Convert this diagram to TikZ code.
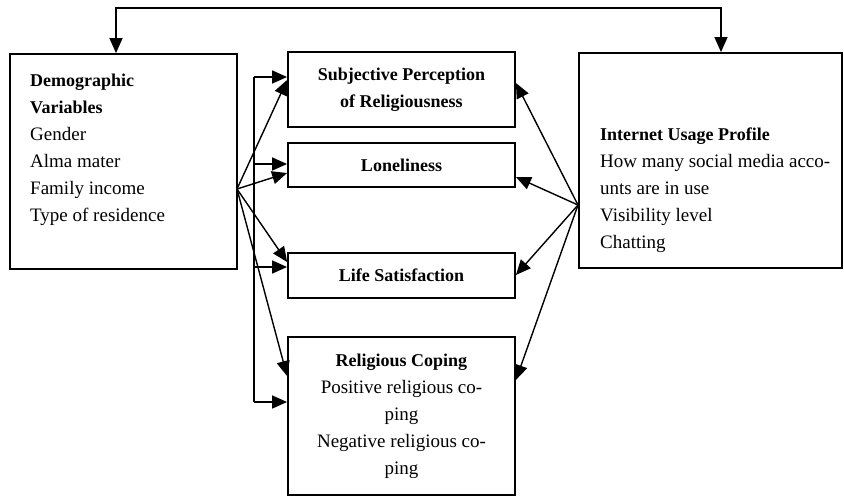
\documentclass[tikz,border=0pt]{standalone}
\usepackage{fontspec}
\setmainfont{Liberation Serif}
\usetikzlibrary{arrows.meta}
\newcommand\hdtext[1]{{\fontsize{18}{27}\selectfont\bfseries #1}}
\begin{document}
\begin{tikzpicture}[x=1pt,y=-1pt,
  box/.style={draw,line width=1.8pt,rectangle,inner sep=0pt,align=center,
    font=\fontsize{19}{27}\selectfont},
  txt/.style={inner sep=0pt,align=left,anchor=north west,font=\fontsize{19}{27}\selectfont},
  tip/.tip={Triangle[length=15pt,width=13pt]},
  arr/.style={line width=1.4pt,-tip},
  plain/.style={line width=1.4pt}]
\useasboundingbox (0,0) rectangle (844,496);
% boxes
\node[box,minimum width=227pt,minimum height=215pt] (dem) at (123.5,161.5) {};
\node[box,minimum width=263pt,minimum height=215pt] (net) at (710.5,160.5) {};
\node[box,minimum width=227pt,minimum height=75pt] (spr) at (401.5,89.5)
  {\hdtext{Subjective Perception}\\\hdtext{of Religiousness}};
\node[box,minimum width=227pt,minimum height=44pt] (lon) at (401.5,165) {\hdtext{Loneliness}};
\node[box,minimum width=227pt,minimum height=45pt] (ls) at (401.5,275.5) {\hdtext{Life Satisfaction}};
\node[box,minimum width=227pt,minimum height=158pt] (rc) at (401.5,416)
  {\hdtext{Religious Coping}\\Positive religious co-\\ping\\Negative religious co-\\ping};
% texts in side boxes
\node[txt] (demtxt) at (30,74) {\hdtext{Demographic}\\\hdtext{Variables}\\Gender\\Alma mater\\Family income\\Type of residence};
\node[txt] (nettxt) at (600,128) {\hdtext{Internet Usage Profile}\\How many social media acco-\\unts are in use\\Visibility level\\Chatting};
% top connector
\coordinate (t1) at (116,8);
\coordinate (t2) at (721,8);
\draw[line width=1.4pt,tip-tip]
  (t1 |- dem.north) -- (t1) -- (t2) -- (t2 |- net.north);
% left fan
\coordinate (lf) at (237,189);
\draw[arr] (lf) -- (spr.west |- 0,80);
\draw[arr] (lf) -- (lon.west |- 0,173);
\draw[arr] (lf) -- (ls.west |- 0,262);
\draw[arr] (lf) -- (rc.west |- 0,376);
% bus
\coordinate (b1) at (254,77);
\coordinate (b2) at (254,402);
\draw[plain] (b1) -- (b2);
\draw[arr] (b1) -- (spr.west |- b1);
\draw[arr] (254,164) -- (lon.west |- 0,164);
\draw[arr] (254,267) -- (ls.west |- 0,267);
\draw[arr] (b2) -- (rc.west |- b2);
% right fan
\coordinate (rf) at (578,205);
\draw[arr] (rf) -- (spr.east |- 0,83);
\draw[arr] (rf) -- (lon.east |- 0,177);
\draw[arr] (rf) -- (ls.east |- 0,275);
\draw[arr] (rf) -- (rc.east |- 0,380);
\end{tikzpicture}
\end{document}
